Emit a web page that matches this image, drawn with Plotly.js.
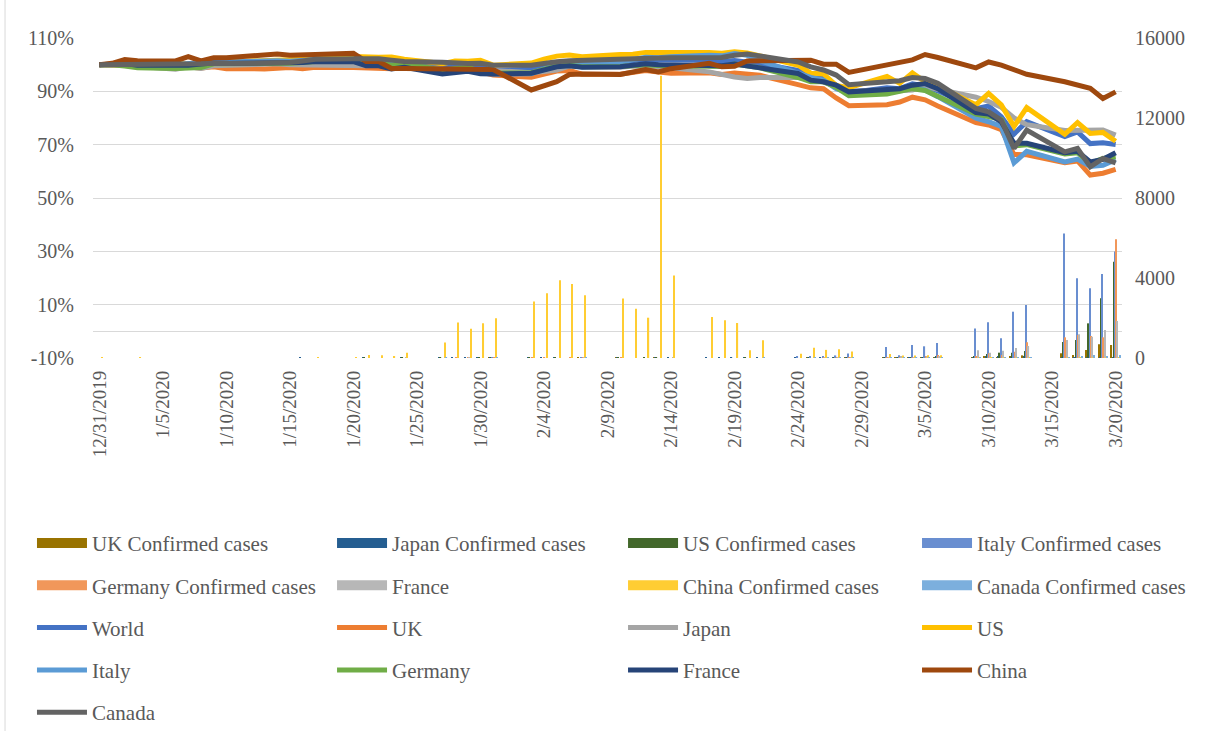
<!DOCTYPE html>
<html>
<head>
<meta charset="utf-8">
<script src="https://cdn.plot.ly/plotly-3.0.1.min.js"></script>
<style>html,body{margin:0;padding:0;background:#fff;}#chart{width:1205px;height:731px;}</style>
</head>
<body>
<div id="chart"></div>
<script>
// ---- data ----
const dates = ["2019-12-31","2020-01-01","2020-01-02","2020-01-03",
"2020-01-06","2020-01-07","2020-01-08","2020-01-09","2020-01-10",
"2020-01-13","2020-01-14","2020-01-15","2020-01-16","2020-01-17",
"2020-01-20","2020-01-21","2020-01-22","2020-01-23","2020-01-24",
"2020-01-27","2020-01-28","2020-01-29","2020-01-30","2020-01-31",
"2020-02-03","2020-02-04","2020-02-05","2020-02-06","2020-02-07",
"2020-02-10","2020-02-11","2020-02-12","2020-02-13","2020-02-14",
"2020-02-17","2020-02-18","2020-02-19","2020-02-20","2020-02-21",
"2020-02-24","2020-02-25","2020-02-26","2020-02-27","2020-02-28",
"2020-03-02","2020-03-03","2020-03-04","2020-03-05","2020-03-06",
"2020-03-09","2020-03-10","2020-03-11","2020-03-12","2020-03-13",
"2020-03-16","2020-03-17","2020-03-18","2020-03-19","2020-03-20"];

// Confirmed cases (right axis)
const ukCases = [0,0,0,0, 0,0,0,0,0, 0,0,0,0,0, 0,0,0,0,0, 0,0,0,0,2, 0,0,0,0,1, 5,0,0,1,0, 0,0,0,0,0, 0,4,0,0,3, 13,4,11,34,30, 50,60,50,100,133, 233,150,400,683,650];
const japanCases = [0,0,0,0, 0,0,0,0,0, 0,0,0,1,0, 0,1,0,0,1, 2,2,3,4,3, 3,2,1,0,0, 6,0,0,8,5, 6,10,8,15,13, 10,12,13,12,20, 20,14,33,38,36, 28,52,54,41,56, 34,15,44,49,39];
const usCases = [0,0,0,0, 0,0,0,0,0, 0,0,0,0,0, 0,1,0,0,1, 3,0,0,1,1, 3,0,1,0,0, 1,0,1,1,0, 0,0,0,2,0, 0,2,0,1,1, 8,23,20,31,68, 100,200,267,267,350, 800,900,1733,2983,4817];
const italyCases = [0,0,0,0, 0,0,0,0,0, 0,0,0,0,0, 0,0,0,0,0, 0,0,0,0,2, 0,0,0,0,1, 0,0,0,0,0, 0,0,0,0,0, 70,95,93,130,230, 550,140,650,585,750, 1480,1785,985,2315,2650, 6230,3985,3485,4200,5320];
const germanyCases = [0,0,0,0, 0,0,0,0,0, 0,0,0,0,0, 0,0,0,0,0, 0,1,3,0,1, 2,2,0,1,1, 2,0,0,0,0, 0,0,0,0,0, 0,0,2,10,30, 40,30,50,100,150, 100,233,150,317,783, 1033,1150,1100,1033,5933];
const franceCases = [0,0,0,0, 0,0,0,0,0, 0,0,0,0,0, 0,0,0,0,3, 0,0,1,0,0, 0,0,0,0,5, 0,0,0,0,1, 0,0,0,0,0, 0,0,2,4,20, 43,60,20,80,100, 390,267,367,500,600, 900,1183,1067,1400,1850];
const chinaCases = [27,0,0,17, 0,0,0,0,0, 0,0,0,0,4, 20,150,140,100,260, 780,1771,1459,1737,1982, 2829,3235,3887,3694,3143, 2973,2467,2015,14108,4130, 2048,1888,1749,391,889, 214,508,406,433,327, 202,125,119,139,143, 40,19,24,15,8, 16,21,13,34,39];
const canadaCases = [0,0,0,0, 0,0,0,0,0, 0,0,0,0,0, 0,0,0,0,0, 1,0,0,0,1, 0,0,0,0,1, 0,0,0,0,0, 0,0,0,0,1, 0,1,2,1,2, 5,8,4,3,10, 13,15,16,20,30, 50,100,150,100,150];

// Index levels, % of 12/31/2019 (left axis)
const world = [100,100,100.5,100.0, 99.9,99.8,100.2,100.9,100.7, 101.2,101.1,101.3,101.7,102.1, 102.0,101.6,101.6,101.2,100.4, 98.9,99.4,99.4,99.2,97.8, 98.3,99.7,100.7,101.2,100.6, 101.0,101.4,102.0,101.7,101.8, 101.6,101.1,101.6,101.2,100.4, 97.8,96.0,95.0,92.5,89.5, 91.3,91.0,92.8,92.0,90.2, 83.5,84.5,80.5,74.0,78.6, 73.0,74.8,70.4,70.7,70.1];
const uk = [100,100,99.8,99.6, 99.5,99.0,98.8,99.2,98.5, 98.4,98.6,98.9,98.5,99.0, 98.9,98.8,98.9,98.5,99.2, 97.1,97.9,98.1,97.3,96.1, 95.3,96.5,97.6,97.8,96.4, 96.4,97.2,97.8,97.2,96.8, 97.0,96.3,96.9,96.5,96.0, 92.5,91.3,91.0,87.5,84.6, 85.0,86.0,87.8,86.8,84.5, 78.3,77.4,75.6,66.3,66.2, 63.2,63.9,58.6,59.3,60.7];
const japan = [100,100,100,99.4, 98.3,99.2,98.6,99.6,99.8, 100.0,100.3,100.0,99.9,100.1, 99.8,99.6,100.0,99.4,99.6, 98.2,97.9,98.2,97.3,97.8, 97.0,97.4,98.0,99.5,99.2, 99.0,99.5,99.3,99.0,98.8, 97.3,96.3,95.4,94.8,95.2, 95.2,94.3,93.5,92.0,90.0, 90.5,90.2,90.5,91.8,90.8, 87.8,86.2,84.0,80.0,77.5, 75.3,75.5,75.6,75.5,73.6];
const us = [100,100,100.8,100.1, 100.5,100.2,100.7,101.4,101.1, 101.8,101.6,101.8,102.7,103.1, 103.1,102.8,102.8,102.9,102.0, 100.4,101.4,101.3,101.6,99.8, 100.6,102.1,103.2,103.6,103.0, 103.8,103.9,104.6,104.4,104.6, 104.6,104.3,104.8,104.4,103.3, 99.8,96.8,96.5,92.2,91.4, 95.6,93.0,96.9,93.6,92.0, 85.0,89.2,84.9,76.8,83.9, 73.9,78.3,74.2,74.6,71.3];
const italy = [100,100,101.2,100.5, 100.0,100.4,100.8,101.3,101.0, 101.6,101.5,101.3,101.4,101.9, 101.7,101.0,101.2,100.0,100.8, 97.5,98.3,98.8,97.2,96.5, 96.6,98.5,100.2,100.8,100.3, 101.0,101.8,102.8,102.6,103.0, 103.5,103.3,104.2,103.5,101.5, 96.5,95.2,94.2,91.0,89.5, 90.0,90.5,91.5,90.5,88.0, 79.9,78.6,76.8,63.2,67.5, 63.5,64.6,61.8,62.3,64.4];
const germany = [100,100,99.5,98.8, 98.6,98.6,98.9,100.3,100.3, 100.7,100.6,100.5,100.8,101.2, 101.3,100.5,100.8,99.8,100.6, 97.9,98.6,99.0,97.5,96.8, 97.0,98.4,99.5,99.8,99.2, 99.3,99.8,100.0,99.7,99.6, 99.7,99.3,100.2,99.5,98.8, 95.2,93.6,93.6,91.5,88.4, 89.0,90.0,91.0,90.3,88.2, 81.5,80.5,79.5,69.5,70.0, 66.5,67.0,63.0,64.8,65.5];
const france = [100,100,100.4,99.8, 99.5,99.8,100.2,100.6,100.5, 100.6,100.8,100.5,100.8,101.2, 101.1,99.6,99.6,98.4,99.0, 96.5,97.2,97.5,96.6,96.5, 96.8,98.0,99.2,99.6,99.0, 99.2,99.8,100.3,100.0,99.9, 99.9,99.6,100.2,99.6,98.8, 96.7,94.2,93.6,92.3,89.8, 90.5,91.0,92.3,92.9,91.0, 82.0,81.5,78.5,70.5,70.5, 67.0,67.5,63.5,64.5,67.0];
const china = [100,100.5,101.9,101.5, 101.4,103.0,101.4,102.6,102.6, 103.8,104.0,103.5,103.5,103.8, 104.3,101.2,101.2,98.6,98.6, 98.6,98.6,98.6,98.6,98.2, 90.5,92.3,93.6,96.3,96.5, 96.3,97.3,98.2,97.3,98.5, 100.5,99.2,99.4,101.4,101.5, 101.3,101.7,100.2,100.2,97.1, 99.8,100.7,101.8,103.8,102.7, 98.8,101.0,99.8,97.9,96.4, 93.6,92.3,91.1,87.3,89.8];
const canada = [100,100,100.2,100.1, 100.2,100.2,100.3,100.5,100.4, 100.6,100.7,100.8,101.4,102.0, 102.2,102.3,102.2,101.7,101.2, 100.9,100.6,100.4,100.5,99.8, 99.8,100.6,101.1,101.5,101.7, 102.0,102.2,102.4,102.5,102.6, 102.8,102.7,103.5,104.0,103.3, 101.0,99.2,98.0,96.1,92.5, 93.6,94.0,95.2,94.8,93.0, 83.6,82.3,79.2,68.6,75.5, 67.3,68.6,61.7,64.8,63.2];

// Tick labels
const xTickDates = ["2019-12-31","2020-01-05","2020-01-10","2020-01-15","2020-01-20","2020-01-25","2020-01-30","2020-02-04","2020-02-09","2020-02-14","2020-02-19","2020-02-24","2020-02-29","2020-03-05","2020-03-10","2020-03-15","2020-03-20"];
const xTickLabels = ["12/31/2019","1/5/2020","1/10/2020","1/15/2020","1/20/2020","1/25/2020","1/30/2020","2/4/2020","2/9/2020","2/14/2020","2/19/2020","2/24/2020","2/29/2020","3/5/2020","3/10/2020","3/15/2020","3/20/2020"];
const leftTickVals = [-10,10,30,50,70,90,110];
const leftTickLabels = ["-10%","10%","30%","50%","70%","90%","110%"];
const rightTickVals = [0,4000,8000,12000,16000];
const rightTickLabels = ["0","4000","8000","12000","16000"];

// ---- series definitions ----
const barSeries = [
  {name:"UK Confirmed cases", y:ukCases, color:"#997300", legend:"legend"},
  {name:"Japan Confirmed cases", y:japanCases, color:"#255e91", legend:"legend2"},
  {name:"US Confirmed cases", y:usCases, color:"#43682b", legend:"legend3"},
  {name:"Italy Confirmed cases", y:italyCases, color:"#698ed0", legend:"legend4"},
  {name:"Germany Confirmed cases", y:germanyCases, color:"#f1975a", legend:"legend"},
  {name:"France", y:franceCases, color:"#b7b7b7", legend:"legend2"},
  {name:"China Confirmed cases", y:chinaCases, color:"#ffcd33", legend:"legend3"},
  {name:"Canada Confirmed cases", y:canadaCases, color:"#7cafdd", legend:"legend4"}
];
const lineSeries = [
  {name:"World", y:world, color:"#4472c4", legend:"legend"},
  {name:"UK", y:uk, color:"#ed7d31", legend:"legend2"},
  {name:"Japan", y:japan, color:"#a5a5a5", legend:"legend3"},
  {name:"US", y:us, color:"#ffc000", legend:"legend4"},
  {name:"Italy", y:italy, color:"#5b9bd5", legend:"legend"},
  {name:"Germany", y:germany, color:"#70ad47", legend:"legend2"},
  {name:"France", y:france, color:"#264478", legend:"legend3"},
  {name:"China", y:china, color:"#9e480e", legend:"legend4"},
  {name:"Canada", y:canada, color:"#636363", legend:"legend"}
];

const traces = [];
barSeries.forEach(s => {
  traces.push({type:"bar", name:s.name, x:dates, y:s.y, yaxis:"y",
    marker:{color:s.color, line:{width:0}}, showlegend:false, hoverinfo:"x+y+name"});
});
// legend swatches for the bar series
barSeries.forEach(s => {
  traces.push({type:"scatter", mode:"lines", name:s.name, x:[dates[0]], y:[null], yaxis:"y2",
    line:{color:s.color, width:10}, legend:s.legend, legendgroup:"bar-"+s.name, hoverinfo:"skip"});
});
lineSeries.forEach(s => {
  traces.push({type:"scatter", mode:"lines", name:s.name, x:dates, y:s.y, yaxis:"y2",
    line:{color:s.color, width:5}, legend:s.legend, legendgroup:"line-"+s.name,
    hovertemplate:"%{y:.1f}%<extra>"+s.name+"</extra>"});
});

const fontFam = "Liberation Serif, Times New Roman, serif";
function legendAt(xp){
  return {orientation:"v", x:xp, xanchor:"left", y:-0.5152, yanchor:"top",
    traceorder:"grouped", tracegroupgap:12, itemwidth:50,
    font:{family:fontFam, size:21, color:"#595959"}, bgcolor:"rgba(0,0,0,0)", borderwidth:0};
}

const layout = {
  width:1205, height:731,
  margin:{l:93, r:83, t:38, b:373, autoexpand:false},
  paper_bgcolor:"#ffffff", plot_bgcolor:"rgba(0,0,0,0)",
  font:{family:fontFam, size:20, color:"#595959"},
  barmode:"group", bargap:0.25, bargroupgap:0,
  showlegend:true,
  xaxis:{type:"date", range:["2019-12-30 12:00","2020-03-20 12:00"],
    tickmode:"array", tickvals:xTickDates, ticktext:xTickLabels, tickangle:-90,
    showgrid:false, zeroline:false, showline:false, ticks:"",
    tickfont:{family:fontFam, size:19, color:"#595959"}, ticklabelstandoff:8},
  yaxis:{side:"right", range:[0,16000], tickmode:"array", tickvals:rightTickVals, ticktext:rightTickLabels,
    showgrid:false, zeroline:false, showline:false, ticks:"",
    tickfont:{family:fontFam, size:20, color:"#595959"}, ticklabelstandoff:12},
  yaxis2:{overlaying:"y", side:"left", range:[-10,110], tickmode:"array", tickvals:leftTickVals, ticktext:leftTickLabels,
    showgrid:true, gridcolor:"#d9d9d9", gridwidth:1,
    zeroline:true, zerolinecolor:"#d9d9d9", zerolinewidth:1, showline:false, ticks:"",
    tickfont:{family:fontFam, size:20, color:"#595959"}, ticklabelstandoff:18},
  legend:legendAt(-0.0593),
  legend2:legendAt(0.2323),
  legend3:legendAt(0.5151),
  legend4:legendAt(0.8008),
  shapes:[{type:"line", xref:"paper", yref:"paper", x0:-0.0855, x1:-0.0855, y0:1.12, y1:-1.17,
    line:{color:"#d9d9d9", width:1}}]
};

Plotly.newPlot("chart", traces, layout, {displayModeBar:false, staticPlot:false});
</script>
</body>
</html>
